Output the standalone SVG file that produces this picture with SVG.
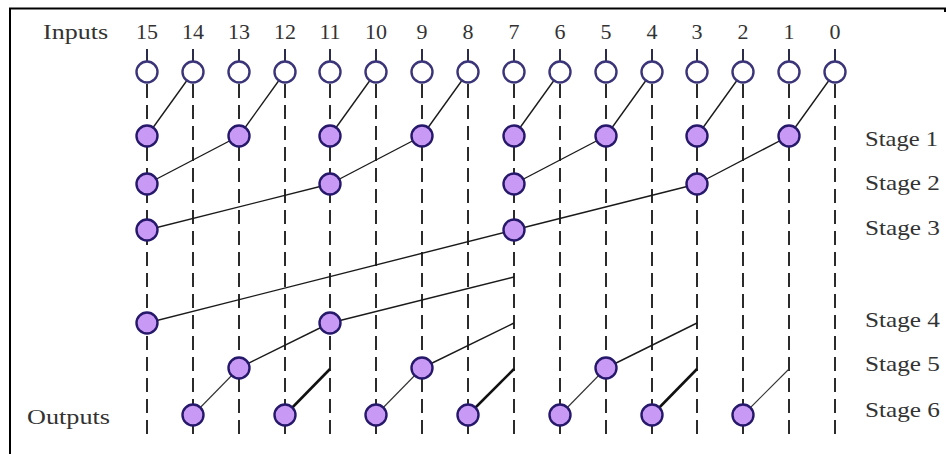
<svg xmlns="http://www.w3.org/2000/svg" width="946" height="454" viewBox="0 0 946 454">
<style>
.lbl{font-family:"Liberation Serif","Times New Roman",serif;font-size:22px;fill:#333}
.num{text-anchor:middle}
.guide{stroke:#2b2b2b;stroke-width:2;stroke-dasharray:14 7;fill:none}
.tick{stroke:#2b2b4a;stroke-width:2}
.in{fill:#fff;stroke:#3a3478;stroke-width:2.4}
.st{fill:#c99af5;stroke:#26186a;stroke-width:2.4}
.c{stroke:#1a1a1a;stroke-width:1.4;fill:none}
.c6{stroke:#333;stroke-width:1.1;fill:none}
.ck{stroke:#111;stroke-width:2.6;fill:none}
</style>
<rect x="0" y="0" width="946" height="454" fill="#fff"/>
<g id="frame" stroke="#000" stroke-width="2" fill="none">
<line x1="9" y1="8.5" x2="946" y2="8.5"/>
<line x1="10" y1="8" x2="10" y2="454"/>
<line x1="945" y1="8" x2="945" y2="12"/>
</g>
<g id="guides" class="guide">
<line x1="147" y1="84" x2="147" y2="438"/>
<line x1="193" y1="84" x2="193" y2="438"/>
<line x1="239" y1="84" x2="239" y2="438"/>
<line x1="285" y1="84" x2="285" y2="438"/>
<line x1="330" y1="84" x2="330" y2="438"/>
<line x1="376" y1="84" x2="376" y2="438"/>
<line x1="422" y1="84" x2="422" y2="438"/>
<line x1="468" y1="84" x2="468" y2="438"/>
<line x1="514" y1="84" x2="514" y2="438"/>
<line x1="560" y1="84" x2="560" y2="438"/>
<line x1="606" y1="84" x2="606" y2="438"/>
<line x1="652" y1="84" x2="652" y2="438"/>
<line x1="697" y1="84" x2="697" y2="438"/>
<line x1="743" y1="84" x2="743" y2="438"/>
<line x1="789" y1="84" x2="789" y2="438"/>
<line x1="835" y1="84" x2="835" y2="438"/>
</g>
<g id="connectors">
<g class="c">
<line x1="193" y1="72" x2="147" y2="136"/>
<line x1="285" y1="72" x2="239" y2="136"/>
<line x1="376" y1="72" x2="330" y2="136"/>
<line x1="468" y1="72" x2="422" y2="136"/>
<line x1="560" y1="72" x2="514" y2="136"/>
<line x1="652" y1="72" x2="606" y2="136"/>
<line x1="743" y1="72" x2="697" y2="136"/>
<line x1="835" y1="72" x2="789" y2="136"/>
<line x1="239" y1="136" x2="147" y2="184"/>
<line x1="422" y1="136" x2="330" y2="184"/>
<line x1="606" y1="136" x2="514" y2="184"/>
<line x1="789" y1="136" x2="697" y2="184"/>
<line x1="330" y1="184" x2="147" y2="230"/>
<line x1="697" y1="184" x2="514" y2="230"/>
<line x1="514" y1="230" x2="147" y2="323"/>
<line x1="514" y1="277" x2="330" y2="323"/>
<line x1="330" y1="323" x2="239" y2="368"/>
<line x1="514" y1="323" x2="422" y2="368"/>
<line x1="697" y1="323" x2="606" y2="368"/>
</g>
<g class="c6">
<line x1="239" y1="368" x2="193" y2="415"/>
<line x1="422" y1="368" x2="376" y2="415"/>
<line x1="606" y1="368" x2="560" y2="415"/>
<line x1="789" y1="369" x2="743" y2="415"/>
</g>
<g class="ck">
<line x1="330" y1="369" x2="285" y2="415"/>
<line x1="514" y1="369" x2="468" y2="415"/>
<line x1="697" y1="369" x2="652" y2="415"/>
</g>
</g>
<text class="lbl" x="43" y="39" textLength="65" lengthAdjust="spacingAndGlyphs">Inputs</text>
<g id="in15"><line class="tick" x1="147" y1="49" x2="147" y2="61"/><circle class="in" cx="147" cy="72" r="10.5"/><text class="lbl num" x="147" y="39">15</text></g>
<g id="in14"><line class="tick" x1="193" y1="49" x2="193" y2="61"/><circle class="in" cx="193" cy="72" r="10.5"/><text class="lbl num" x="193" y="39">14</text></g>
<g id="in13"><line class="tick" x1="239" y1="49" x2="239" y2="61"/><circle class="in" cx="239" cy="72" r="10.5"/><text class="lbl num" x="239" y="39">13</text></g>
<g id="in12"><line class="tick" x1="285" y1="49" x2="285" y2="61"/><circle class="in" cx="285" cy="72" r="10.5"/><text class="lbl num" x="285" y="39">12</text></g>
<g id="in11"><line class="tick" x1="330" y1="49" x2="330" y2="61"/><circle class="in" cx="330" cy="72" r="10.5"/><text class="lbl num" x="330" y="39">11</text></g>
<g id="in10"><line class="tick" x1="376" y1="49" x2="376" y2="61"/><circle class="in" cx="376" cy="72" r="10.5"/><text class="lbl num" x="376" y="39">10</text></g>
<g id="in9"><line class="tick" x1="422" y1="49" x2="422" y2="61"/><circle class="in" cx="422" cy="72" r="10.5"/><text class="lbl num" x="422" y="39">9</text></g>
<g id="in8"><line class="tick" x1="468" y1="49" x2="468" y2="61"/><circle class="in" cx="468" cy="72" r="10.5"/><text class="lbl num" x="468" y="39">8</text></g>
<g id="in7"><line class="tick" x1="514" y1="49" x2="514" y2="61"/><circle class="in" cx="514" cy="72" r="10.5"/><text class="lbl num" x="514" y="39">7</text></g>
<g id="in6"><line class="tick" x1="560" y1="49" x2="560" y2="61"/><circle class="in" cx="560" cy="72" r="10.5"/><text class="lbl num" x="560" y="39">6</text></g>
<g id="in5"><line class="tick" x1="606" y1="49" x2="606" y2="61"/><circle class="in" cx="606" cy="72" r="10.5"/><text class="lbl num" x="606" y="39">5</text></g>
<g id="in4"><line class="tick" x1="652" y1="49" x2="652" y2="61"/><circle class="in" cx="652" cy="72" r="10.5"/><text class="lbl num" x="652" y="39">4</text></g>
<g id="in3"><line class="tick" x1="697" y1="49" x2="697" y2="61"/><circle class="in" cx="697" cy="72" r="10.5"/><text class="lbl num" x="697" y="39">3</text></g>
<g id="in2"><line class="tick" x1="743" y1="49" x2="743" y2="61"/><circle class="in" cx="743" cy="72" r="10.5"/><text class="lbl num" x="743" y="39">2</text></g>
<g id="in1"><line class="tick" x1="789" y1="49" x2="789" y2="61"/><circle class="in" cx="789" cy="72" r="10.5"/><text class="lbl num" x="789" y="39">1</text></g>
<g id="in0"><line class="tick" x1="835" y1="49" x2="835" y2="61"/><circle class="in" cx="835" cy="72" r="10.5"/><text class="lbl num" x="835" y="39">0</text></g>
<g id="s1_15"><circle class="st" cx="147" cy="136" r="10.5"/></g>
<g id="s1_13"><circle class="st" cx="239" cy="136" r="10.5"/></g>
<g id="s1_11"><circle class="st" cx="330" cy="136" r="10.5"/></g>
<g id="s1_9"><circle class="st" cx="422" cy="136" r="10.5"/></g>
<g id="s1_7"><circle class="st" cx="514" cy="136" r="10.5"/></g>
<g id="s1_5"><circle class="st" cx="606" cy="136" r="10.5"/></g>
<g id="s1_3"><circle class="st" cx="697" cy="136" r="10.5"/></g>
<g id="s1_1"><circle class="st" cx="789" cy="136" r="10.5"/></g>
<g id="s2_15"><circle class="st" cx="147" cy="184" r="10.5"/></g>
<g id="s2_11"><circle class="st" cx="330" cy="184" r="10.5"/></g>
<g id="s2_7"><circle class="st" cx="514" cy="184" r="10.5"/></g>
<g id="s2_3"><circle class="st" cx="697" cy="184" r="10.5"/></g>
<g id="s3_15"><circle class="st" cx="147" cy="230" r="10.5"/></g>
<g id="s3_7"><circle class="st" cx="514" cy="230" r="10.5"/></g>
<g id="s4_15"><circle class="st" cx="147" cy="323" r="10.5"/></g>
<g id="s4_11"><circle class="st" cx="330" cy="323" r="10.5"/></g>
<g id="s5_13"><circle class="st" cx="239" cy="368" r="10.5"/></g>
<g id="s5_9"><circle class="st" cx="422" cy="368" r="10.5"/></g>
<g id="s5_5"><circle class="st" cx="606" cy="368" r="10.5"/></g>
<g id="s6_14"><circle class="st" cx="193" cy="415" r="10.5"/></g>
<g id="s6_12"><circle class="st" cx="285" cy="415" r="10.5"/></g>
<g id="s6_10"><circle class="st" cx="376" cy="415" r="10.5"/></g>
<g id="s6_8"><circle class="st" cx="468" cy="415" r="10.5"/></g>
<g id="s6_6"><circle class="st" cx="560" cy="415" r="10.5"/></g>
<g id="s6_4"><circle class="st" cx="652" cy="415" r="10.5"/></g>
<g id="s6_2"><circle class="st" cx="743" cy="415" r="10.5"/></g>
<g id="stage-labels" class="lbl">
<text x="865" y="146" textLength="73" lengthAdjust="spacingAndGlyphs">Stage 1</text>
<text x="865" y="190" textLength="75" lengthAdjust="spacingAndGlyphs">Stage 2</text>
<text x="865" y="235" textLength="75" lengthAdjust="spacingAndGlyphs">Stage 3</text>
<text x="865" y="327" textLength="75" lengthAdjust="spacingAndGlyphs">Stage 4</text>
<text x="865" y="371" textLength="75" lengthAdjust="spacingAndGlyphs">Stage 5</text>
<text x="865" y="417" textLength="75" lengthAdjust="spacingAndGlyphs">Stage 6</text>
</g>
<text class="lbl" x="27" y="424" textLength="83" lengthAdjust="spacingAndGlyphs">Outputs</text>
</svg>
